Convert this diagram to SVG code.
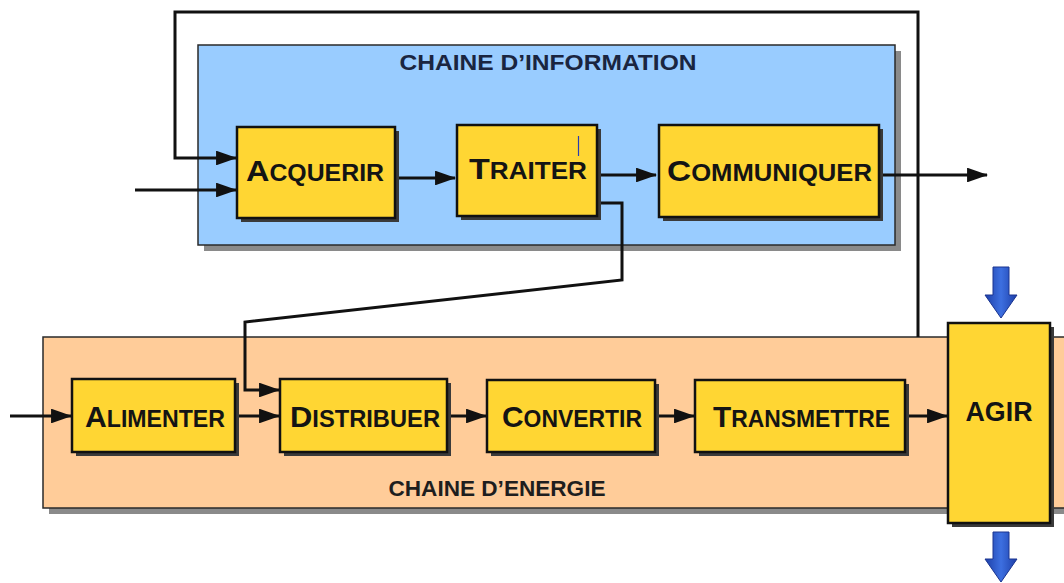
<svg xmlns="http://www.w3.org/2000/svg" width="1064" height="583" viewBox="0 0 1064 583">
  <style>
    .chain-shadow { fill: #8a8a8a; }
    .info { fill: #99ccff; stroke: #2a2a2a; stroke-width: 1.5; }
    .energy { fill: #ffcc99; stroke: #2a2a2a; stroke-width: 1.5; }
    .box-shadow { fill: #3a3a3a; }
    .box { fill: #ffd633; stroke: #111; stroke-width: 2.5; }
    .lbl { font-family: "Liberation Sans", "DejaVu Sans", sans-serif; font-weight: bold; fill: #141414; }
    .big { font-size: 30px; }
    .small { font-size: 23px; }
    .title { font-family: "Liberation Sans", Arial, sans-serif; font-weight: bold; font-size: 22px; }
    .wire { fill: none; stroke: #111; stroke-width: 3; stroke-linejoin: miter; }
  </style>
  <defs>
    <marker id="arrow" viewBox="0 0 10 7" refX="9.5" refY="3.5" markerWidth="7" markerHeight="4.9" markerUnits="strokeWidth" orient="auto">
      <path d="M0,0 L10,3.5 L0,7 z" fill="#111"/>
    </marker>
    <linearGradient id="blueArrow" x1="0" y1="0" x2="1" y2="0">
      <stop offset="0" stop-color="#1d3fa8"/>
      <stop offset="0.5" stop-color="#3d6fe0"/>
      <stop offset="1" stop-color="#1d3fa8"/>
    </linearGradient>
  </defs>

  <rect width="1064" height="583" fill="#ffffff"/>

  <!-- information chain container -->
  <g id="chaine-information">
    <rect class="chain-shadow" x="204" y="51" width="697" height="200"/>
    <rect class="info" x="198" y="45" width="697" height="200"/>
    <text class="title" x="548" y="70" text-anchor="middle" fill="#1a2540" textLength="297" lengthAdjust="spacingAndGlyphs">CHAINE D’INFORMATION</text>
  </g>

  <!-- energy chain container -->
  <g id="chaine-energie">
    <rect class="chain-shadow" x="49" y="343" width="1030" height="171"/>
    <rect class="energy" x="43" y="337" width="1030" height="171"/>
    <text class="title" x="497" y="496" text-anchor="middle" fill="#1e1e1e" font-size="21" textLength="217" lengthAdjust="spacingAndGlyphs">CHAINE D’ENERGIE</text>
  </g>

  <!-- connectors -->
  <g id="connectors">
    <!-- feedback loop from the action back to acquisition -->
    <path class="wire" d="M918,337 L918,12 L175,12 L175,158 L236,158" marker-end="url(#arrow)"/>
    <!-- external information input -->
    <path class="wire" d="M135,190 L236,190" marker-end="url(#arrow)"/>
    <path class="wire" d="M396,178 L455,178" marker-end="url(#arrow)"/>
    <path class="wire" d="M598,175 L656,175" marker-end="url(#arrow)"/>
    <!-- outgoing information -->
    <path class="wire" d="M880,175 L987,175" marker-end="url(#arrow)"/>
    <!-- order from processing to distribution -->
    <path class="wire" d="M598,203 L622,203 L622,280 L245,322 L245,390 L279,390" marker-end="url(#arrow)"/>
    <!-- energy flow -->
    <path class="wire" d="M10,416 L71,416" marker-end="url(#arrow)"/>
    <path class="wire" d="M236,416 L279,416" marker-end="url(#arrow)"/>
    <path class="wire" d="M448,416 L486,416" marker-end="url(#arrow)"/>
    <path class="wire" d="M656,416 L694,416" marker-end="url(#arrow)"/>
    <path class="wire" d="M906,416 L947,416" marker-end="url(#arrow)"/>
  </g>

  <g id="acquerir">
    <rect class="box-shadow" x="241" y="131" width="158" height="91"/>
    <rect class="box" x="237" y="127" width="158" height="91"/>
    <text class="lbl" x="246" y="181" textLength="138" lengthAdjust="spacingAndGlyphs"><tspan class="big">A</tspan><tspan class="small">CQUERIR</tspan></text>
  </g>

  <g id="traiter">
    <rect class="box-shadow" x="461" y="129" width="140" height="91"/>
    <rect class="box" x="457" y="125" width="140" height="91"/>
    <text class="lbl" x="469" y="179" textLength="118" lengthAdjust="spacingAndGlyphs"><tspan class="big">T</tspan><tspan class="small">RAITER</tspan></text>
    <line x1="578.5" y1="136" x2="578.5" y2="156" stroke="#2a3db0" stroke-width="1.2"/>
  </g>

  <g id="communiquer">
    <rect class="box-shadow" x="663" y="129" width="220" height="92"/>
    <rect class="box" x="659" y="125" width="220" height="92"/>
    <text class="lbl" x="667" y="181" textLength="205" lengthAdjust="spacingAndGlyphs"><tspan class="big">C</tspan><tspan class="small">OMMUNIQUER</tspan></text>
  </g>

  <g id="alimenter">
    <rect class="box-shadow" x="76" y="383" width="163" height="73"/>
    <rect class="box" x="72" y="379" width="163" height="73"/>
    <text class="lbl" x="85" y="427" textLength="140" lengthAdjust="spacingAndGlyphs"><tspan class="big">A</tspan><tspan class="small">LIMENTER</tspan></text>
  </g>

  <g id="distribuer">
    <rect class="box-shadow" x="284" y="383" width="167" height="73"/>
    <rect class="box" x="280" y="379" width="167" height="73"/>
    <text class="lbl" x="290" y="427" textLength="150" lengthAdjust="spacingAndGlyphs"><tspan class="big">D</tspan><tspan class="small">ISTRIBUER</tspan></text>
  </g>

  <g id="convertir">
    <rect class="box-shadow" x="491" y="384" width="168" height="72"/>
    <rect class="box" x="487" y="380" width="168" height="72"/>
    <text class="lbl" x="502" y="427" textLength="140" lengthAdjust="spacingAndGlyphs"><tspan class="big">C</tspan><tspan class="small">ONVERTIR</tspan></text>
  </g>

  <g id="transmettre">
    <rect class="box-shadow" x="699" y="384" width="210" height="72"/>
    <rect class="box" x="695" y="380" width="210" height="72"/>
    <text class="lbl" x="713" y="427" textLength="177" lengthAdjust="spacingAndGlyphs"><tspan class="big">T</tspan><tspan class="small">RANSMETTRE</tspan></text>
  </g>

  <g id="agir">
    <rect class="box-shadow" x="952" y="327" width="102" height="200"/>
    <rect class="box" x="948" y="323" width="102" height="200" stroke-width="2"/>
    <text x="999" y="421" text-anchor="middle" font-family="Liberation Sans, Arial, sans-serif" font-weight="bold" font-size="27" fill="#141414" textLength="67" lengthAdjust="spacingAndGlyphs">AGIR</text>
  </g>

  <!-- matter/energy flow in and out of the actuator -->
  <g id="flux-entree">
    <path d="M993,267 L1009,267 L1009,295 L1017,295 L1001,318 L985,295 L993,295 z" fill="url(#blueArrow)" stroke="#1a3490" stroke-width="1"/>
  </g>
  <g id="flux-sortie">
    <path d="M993,532 L1009,532 L1009,559 L1017,559 L1001,582 L985,559 L993,559 z" fill="url(#blueArrow)" stroke="#1a3490" stroke-width="1"/>
  </g>
</svg>
